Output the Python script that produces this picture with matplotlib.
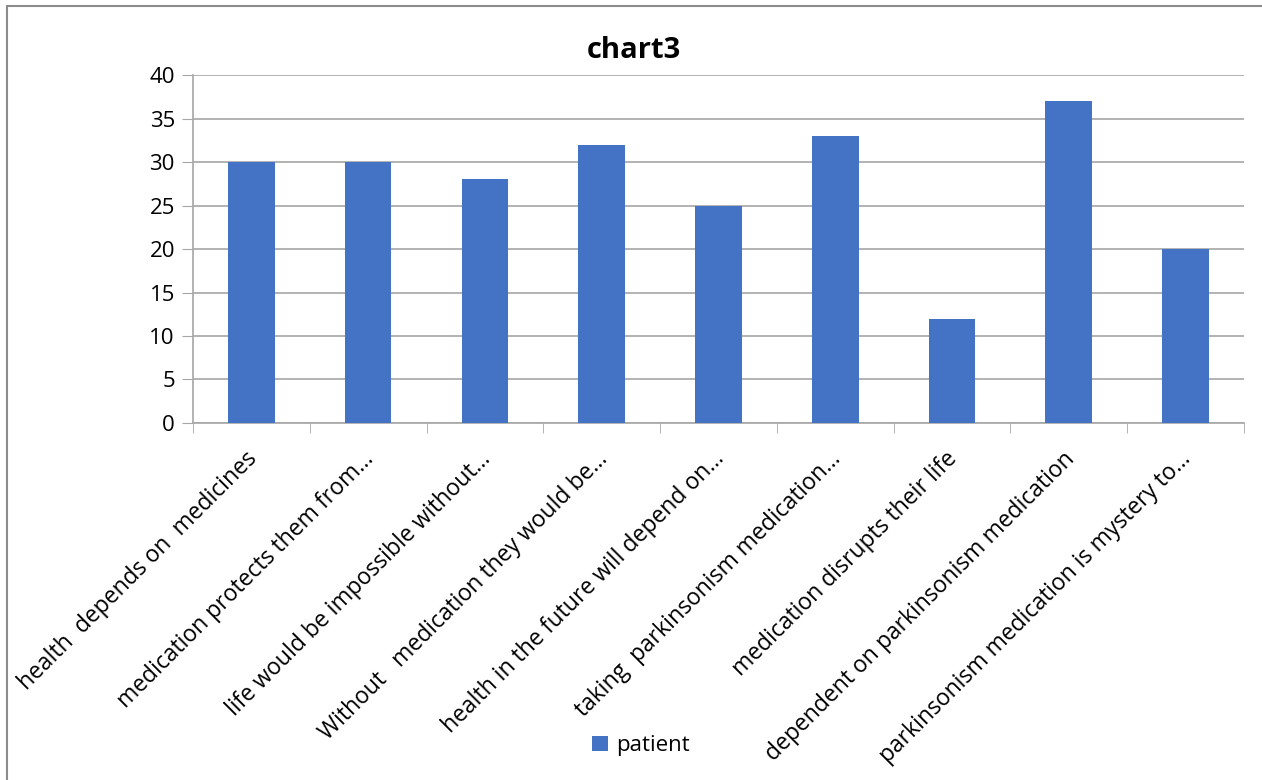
import matplotlib
matplotlib.use('Agg')
import matplotlib.pyplot as plt
from matplotlib.patches import Rectangle

plt.rcParams['font.family'] = ['Open Sans', 'DejaVu Sans']

# chart data
categories = [
    'health  depends on  medicines',
    'medication protects them from...',
    'life would be impossible without...',
    'Without   medication they would be...',
    'health in the future will depend on...',
    'taking  parkinsonism medication...',
    'medication disrupts their life',
    'dependent on parkinsonism medication',
    'parkinsonism medication is mystery to...',
]
patient = [30, 30, 28, 32, 25, 33, 12, 37, 20]
y_ticks = [0, 5, 10, 15, 20, 25, 30, 35, 40]

bar_color = '#4472C4'
grid_color = '#a6a6a6'

fig = plt.figure(figsize=(12.62, 7.8), dpi=100)
ax = fig.add_axes([0.1529, 0.4577, 0.8328, 0.4461])

x = list(range(len(categories)))
bars = ax.bar(x, patient, width=0.4, color=bar_color, label='patient', zorder=3)

ax.set_xlim(-0.5, len(categories) - 0.5)
ax.set_ylim(0, 40)
ax.set_yticks(y_ticks)
ax.tick_params(axis='y', labelsize=16, length=8, color=grid_color, pad=5)
ax.yaxis.grid(True, color=grid_color, linewidth=1.2, zorder=0)

# category labels at bar centres, tick marks at boundaries
ax.set_xticks(x)
ax.set_xticklabels(categories, rotation=45, ha='right', va='center_baseline',
                   rotation_mode='anchor', fontsize=16.5)
ax.tick_params(axis='x', length=0, pad=22)
ax.set_xticks([i - 0.5 for i in range(len(categories) + 1)], minor=True)
ax.tick_params(axis='x', which='minor', length=7, color=grid_color, direction='out')

for side in ['top', 'right']:
    ax.spines[side].set_visible(False)
for side in ['left', 'bottom']:
    ax.spines[side].set_color(grid_color)
    ax.spines[side].set_linewidth(1.2)

fig.text(0.5025, 0.935, 'chart3', ha='center', va='center', fontsize=21,
         fontweight='bold')

fig.legend(handles=[bars], labels=['patient'], loc='center',
           bbox_to_anchor=(0.508, 0.044), frameon=False, fontsize=16,
           handlelength=0.7, handleheight=0.7, handletextpad=0.4)

# outer chart border
fig.add_artist(Rectangle((7 / 1262, -0.01), 1.0, 1 - 6 / 780 + 0.01,
                         transform=fig.transFigure, fill=False,
                         edgecolor='#8c8c8c', linewidth=1.5))

fig.savefig('out.png', dpi=100)
